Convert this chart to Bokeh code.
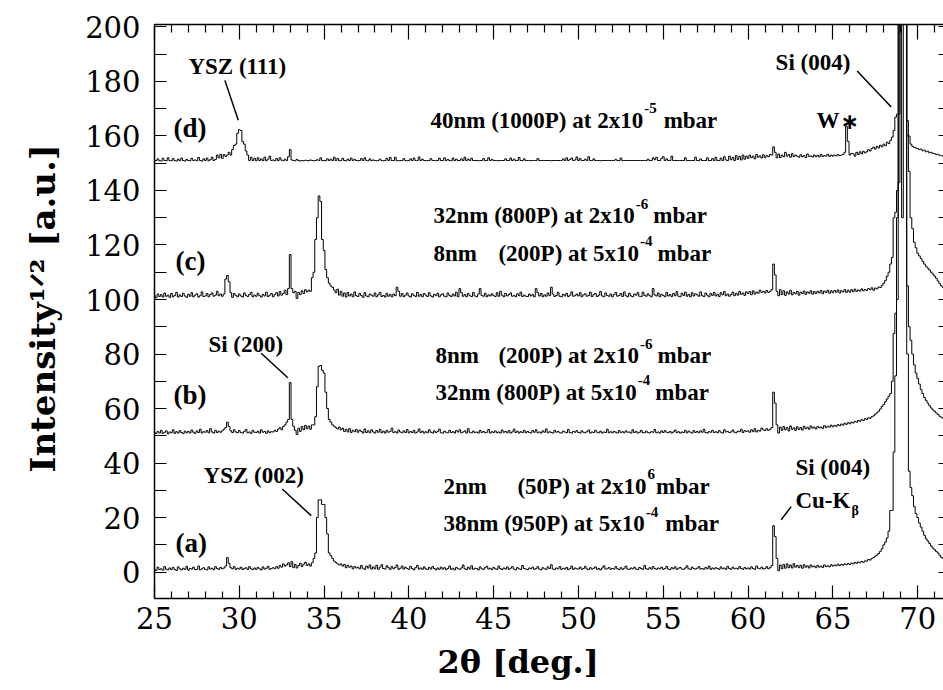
import numpy as np
from bokeh.plotting import figure
from bokeh.models import Range1d, LinearAxis, FixedTicker, Label, Title
from bokeh.embed import file_html
from bokeh.resources import INLINE

# ---------------- data (square-root intensity) ----------------
two_theta_start = 25.0
two_theta_step = 0.1

# (a) 2nm (50P) at 2x10^-6 + 38nm (950P) at 5x10^-4 mbar
trace_a = [
    1.0,0.6,1.8,0.9,1.2,0.7,2.0,1.1,0.8,1.5,
    0.9,1.7,1.0,0.6,1.9,1.2,0.8,1.4,1.0,2.1,
    0.7,1.3,1.1,1.8,0.9,1.0,2.2,0.8,1.2,1.6,
    1.0,0.8,1.9,1.1,1.4,0.9,2.0,1.3,1.0,1.7,
    1.2,1.5,2.2,5.3,3.2,1.6,1.2,2.0,1.0,1.4,
    1.1,1.8,0.9,1.3,1.6,1.0,2.0,1.2,0.9,1.5,
    1.0,1.7,1.2,0.8,1.9,1.1,1.4,2.1,1.0,1.3,
    1.6,1.2,2.0,1.4,2.4,1.8,3.0,2.2,2.6,3.4,
    2.0,3.8,1.6,2.8,1.5,2.4,3.2,2.0,2.9,3.6,
    2.4,3.0,2.2,3.4,5.0,7.0,20.0,26.5,26.5,24.8,
    24.8,20.0,14.0,7.0,6.0,5.0,4.0,3.5,3.0,2.6,
    3.0,2.2,2.8,1.6,2.5,1.8,2.2,1.2,2.0,1.5,
    1.8,1.2,2.4,1.4,1.0,2.2,1.5,2.6,1.1,1.9,
    1.2,2.5,1.0,1.8,2.7,1.3,1.1,2.3,1.6,1.0,
    2.0,1.2,1.7,2.6,1.0,1.4,2.2,1.1,1.8,1.3,
    1.0,2.1,1.3,0.8,1.6,2.4,1.1,1.5,1.0,1.9,
    1.2,0.9,1.7,1.1,2.0,1.3,0.8,1.5,1.0,1.8,
    1.1,1.6,0.9,1.3,2.2,1.0,1.4,0.8,1.7,1.2,
    1.0,1.5,2.6,1.2,0.9,1.8,1.1,2.3,1.0,1.4,
    1.3,0.8,1.9,1.2,1.0,1.6,2.1,1.1,1.4,0.9,
    1.7,1.2,1.0,2.2,1.3,0.9,1.5,1.1,1.9,1.0,
    1.4,2.0,1.1,0.8,1.6,1.2,1.0,2.4,1.3,1.1,
    0.9,1.5,1.2,1.8,1.0,1.3,2.0,1.1,0.8,1.6,
    1.2,1.0,1.9,1.3,2.7,1.1,0.9,1.5,1.2,2.0,
    1.0,1.4,1.1,1.7,0.9,1.3,2.2,1.0,1.5,1.2,
    1.1,1.8,1.0,1.3,2.1,1.2,0.9,1.6,1.1,1.4,
    1.9,1.0,1.3,0.8,1.5,2.3,1.1,1.2,1.7,1.0,
    1.3,1.1,2.0,1.2,0.9,1.6,1.0,1.4,2.2,1.1,
    1.0,1.5,1.2,1.8,1.1,0.9,1.7,1.3,1.0,2.4,
    1.2,1.0,1.6,1.1,2.0,1.3,1.0,1.5,1.2,1.8,
    1.0,1.3,2.1,1.1,0.9,1.6,1.2,1.9,1.0,1.4,
    1.7,1.1,1.0,1.5,2.3,1.2,1.0,1.8,1.3,1.1,
    1.4,2.0,1.1,1.3,1.0,1.7,1.2,2.2,1.0,1.5,
    1.1,1.6,1.3,1.0,1.9,1.2,1.5,1.0,2.1,1.3,
    1.0,1.8,1.2,1.4,1.1,2.0,1.3,1.0,1.7,1.2,
    1.5,1.1,1.9,1.3,1.0,2.2,1.4,1.2,1.8,1.1,
    1.3,2.0,1.2,1.6,2.4,17.0,13.0,5.0,0.5,2.6,
    1.2,2.8,1.4,3.0,1.6,2.6,1.5,3.1,1.8,2.4,
    1.6,2.5,1.4,2.7,1.8,2.3,1.5,2.6,1.9,2.2,
    1.6,2.4,1.8,2.2,1.7,2.6,2.0,2.3,1.9,2.7,
    2.2,2.6,2.3,2.9,2.4,2.8,2.5,3.0,2.7,3.1,
    2.8,3.3,3.0,3.5,3.2,3.7,3.4,3.9,3.6,4.1,
    4.0,4.6,4.4,5.0,5.3,5.8,6.2,6.8,7.6,8.6,
    10.0,11.0,12.5,15.0,22.6,22.6,44.0,72.0,100.0,400.0,
    900.0,130.0,700.0,500.0,80.0,37.0,31.0,28.0,24.0,21.5,
    20.0,18.0,16.5,15.0,13.5,12.2,11.4,10.5,9.6,8.8,
    8.2,7.6,7.0,6.2,5.4,5.0,
]

# (b) 8nm (200P) at 2x10^-6 + 32nm (800P) at 5x10^-4 mbar
trace_b = [
    1.2,0.8,1.6,1.0,2.0,0.9,1.3,1.8,0.7,1.4,
    1.1,2.2,0.9,1.5,1.0,1.9,1.2,0.8,1.7,1.1,
    1.6,1.0,2.1,1.3,0.9,1.8,1.2,2.4,1.0,1.5,
    1.3,1.9,1.1,2.6,1.4,1.0,2.0,1.2,1.7,1.3,
    1.8,2.4,3.0,5.0,3.4,1.8,1.2,2.2,1.4,1.1,
    1.9,1.2,1.0,1.6,2.3,1.1,1.4,0.9,2.0,1.3,
    1.2,1.7,1.0,2.2,1.3,1.6,0.9,1.8,1.1,1.5,
    1.4,2.0,1.6,2.4,3.0,2.2,3.4,4.0,5.0,6.0,
    19.5,6.0,3.5,2.0,0.5,2.8,1.6,3.4,2.2,3.8,
    2.6,3.6,2.4,4.0,4.0,7.0,18.0,25.5,25.8,24.0,
    23.0,16.0,10.0,6.0,5.0,4.0,3.5,3.0,2.5,3.2,
    2.2,2.8,1.6,2.4,1.4,2.6,1.2,2.0,1.5,2.3,
    1.3,2.1,1.6,1.0,2.5,1.2,1.8,1.1,2.2,1.4,
    1.0,1.9,1.3,2.4,1.1,1.7,1.0,2.0,1.3,1.6,
    2.8,1.2,1.5,1.0,2.1,1.4,1.1,1.8,1.2,2.3,
    1.1,1.6,1.2,2.0,1.0,1.4,2.5,1.2,1.7,1.0,
    1.5,1.1,2.2,1.3,1.0,1.8,1.2,1.6,2.4,1.1,
    1.0,1.7,1.3,1.1,2.0,1.2,1.5,1.0,1.9,1.4,
    2.2,1.1,1.4,1.8,1.0,2.6,1.3,1.1,1.7,1.2,
    1.4,1.0,2.0,1.2,1.6,1.1,1.3,2.3,1.0,1.5,
    1.2,1.8,1.1,1.4,1.0,2.1,1.3,1.6,1.1,1.9,
    1.0,1.4,2.4,1.2,1.7,1.0,1.5,1.2,2.0,1.1,
    1.6,1.2,1.0,1.9,1.3,2.2,1.1,1.4,1.0,1.8,
    1.3,2.5,1.1,1.5,1.2,1.0,2.0,1.3,1.6,1.1,
    1.0,1.7,1.4,1.1,2.3,1.2,1.0,1.6,1.3,1.9,
    1.2,1.0,1.8,1.3,1.1,1.5,2.1,1.0,1.4,1.2,
    2.0,1.3,1.1,1.7,1.0,1.4,1.2,2.4,1.1,1.5,
    1.1,1.6,1.3,1.0,1.9,1.2,1.5,1.1,1.8,1.3,
    1.4,1.0,2.2,1.2,1.6,1.0,1.3,2.0,1.2,1.1,
    1.7,1.2,1.0,1.5,1.3,2.3,1.1,1.4,1.0,1.8,
    1.2,1.9,1.3,1.1,1.6,1.0,1.4,2.1,1.2,1.5,
    1.0,1.4,1.2,2.0,1.1,1.7,1.3,1.0,1.9,1.2,
    1.6,1.1,1.8,1.3,2.4,1.2,1.0,1.5,1.3,2.0,
    1.2,1.5,1.1,1.9,1.3,1.0,2.2,1.4,1.6,1.2,
    1.4,2.1,1.3,1.1,1.7,1.5,2.4,1.2,1.9,1.6,
    1.8,1.3,2.2,1.5,2.6,1.4,2.0,1.7,2.8,2.2,
    1.9,2.6,2.0,2.4,3.0,16.0,12.0,4.0,1.0,3.2,
    2.0,3.4,2.2,3.0,1.8,3.6,2.4,2.9,2.0,3.3,
    2.3,3.0,2.1,3.5,2.6,3.1,2.4,3.6,2.8,3.2,
    2.5,3.4,2.9,3.2,2.7,3.7,3.0,3.5,3.2,3.9,
    3.3,3.8,3.5,4.1,3.7,4.3,3.9,4.6,4.2,4.8,
    4.4,5.0,4.7,5.3,5.0,5.6,5.3,5.9,5.6,6.3,
    6.0,6.6,6.4,7.0,7.3,7.9,8.4,9.0,9.8,10.8,
    11.5,12.5,13.5,14.5,15.5,20.0,37.5,45.0,80.0,500.0,
    800.0,1000.0,800.0,600.0,55.0,40.0,35.0,30.0,26.0,23.0,
    21.0,19.0,17.0,15.5,14.0,13.0,12.0,11.0,10.2,9.5,
    9.0,8.4,7.8,7.2,6.8,6.4,
]

# (c) 32nm (800P) at 2x10^-6 + 8nm (200P) at 5x10^-4 mbar
trace_c = [
    1.4,0.6,2.0,1.1,1.8,0.9,2.4,1.2,1.6,0.8,
    2.2,1.0,1.5,2.6,0.9,1.7,1.1,2.3,1.3,0.8,
    1.9,1.2,2.5,1.0,1.6,2.1,0.9,1.4,2.8,1.1,
    1.3,2.2,1.0,1.8,2.4,1.2,1.6,3.0,1.4,2.0,
    1.2,2.0,7.5,8.8,6.5,2.5,0.8,2.2,1.5,1.0,
    2.0,1.3,0.9,2.4,1.5,1.1,1.8,2.6,1.0,1.6,
    1.2,2.3,1.4,0.9,1.9,1.3,2.7,1.1,1.6,2.2,
    1.0,1.8,2.5,1.3,2.9,1.6,2.2,3.4,1.8,4.0,
    16.5,4.0,2.5,3.0,0.4,2.6,1.8,3.2,2.2,3.6,
    2.8,3.4,3.0,8.0,10.0,22.0,30.0,38.0,36.0,22.0,
    18.0,11.0,8.0,6.0,5.0,4.5,3.5,2.5,3.8,1.6,
    3.0,1.2,2.4,0.9,2.6,1.3,2.0,1.0,2.8,1.4,
    1.1,2.2,1.5,0.8,2.5,1.3,1.0,2.0,1.6,1.2,
    2.4,1.0,1.7,2.6,1.1,1.5,0.9,2.3,1.2,1.8,
    1.0,2.0,1.4,4.5,3.0,1.2,2.2,1.0,1.6,2.4,
    1.3,0.9,2.1,1.5,1.1,2.6,1.2,1.8,1.0,2.2,
    1.6,1.1,2.5,1.3,0.9,1.9,1.4,2.3,1.0,1.7,
    2.1,1.2,1.0,2.4,1.5,1.1,2.0,1.3,2.7,1.0,
    4.0,2.5,1.2,1.8,1.0,2.2,1.4,1.1,2.6,1.3,
    1.0,2.0,4.0,1.5,1.2,2.3,1.0,1.7,1.3,2.1,
    1.4,1.1,2.5,1.2,3.0,1.6,1.0,2.2,1.3,1.8,
    2.4,1.2,1.5,1.0,2.1,1.4,2.7,1.1,1.6,1.2,
    1.1,2.0,1.3,1.8,1.0,4.0,2.5,1.3,2.2,1.0,
    1.7,1.2,2.4,1.4,4.5,2.0,1.1,1.5,2.6,1.2,
    1.0,1.9,1.3,2.2,1.1,1.6,2.8,1.2,1.4,2.0,
    1.3,2.5,1.0,1.7,2.1,1.2,1.5,2.7,1.1,1.8,
    2.2,1.1,1.6,2.9,1.3,1.0,2.4,1.5,1.2,2.0,
    1.0,1.8,2.6,1.2,1.5,2.2,1.1,2.8,1.4,1.0,
    2.3,1.3,1.0,2.0,1.6,2.5,1.2,1.1,2.7,1.5,
    1.2,2.1,1.4,1.0,4.0,1.7,1.3,2.4,1.0,1.9,
    1.5,1.0,2.6,1.3,1.8,1.1,2.2,1.4,2.9,1.2,
    1.0,2.3,1.5,2.7,1.2,1.9,1.0,2.5,1.3,2.1,
    1.7,1.2,2.8,1.4,1.1,2.4,1.6,1.0,2.2,1.5,
    2.6,1.3,1.9,1.1,2.5,1.7,2.9,1.4,2.0,1.2,
    1.8,2.7,1.4,2.3,1.6,3.0,1.9,2.4,1.5,2.8,
    2.2,2.9,1.8,3.2,2.0,2.7,2.3,3.4,2.6,3.0,
    2.4,3.3,2.6,3.0,3.6,13.0,9.0,3.0,1.4,3.6,
    1.8,3.2,1.5,2.8,2.0,3.4,1.7,2.6,2.1,3.0,
    1.6,2.7,2.2,3.1,1.9,2.8,2.3,3.2,2.0,2.9,
    2.2,3.0,2.4,3.3,2.1,3.1,2.6,3.4,2.3,3.2,
    2.5,3.3,2.7,3.5,2.4,3.2,2.8,3.6,2.6,3.4,
    2.7,3.6,2.9,3.8,3.0,3.5,3.1,3.9,3.2,3.7,
    3.3,4.0,3.6,4.3,3.4,4.2,3.9,4.6,4.4,5.2,
    6.0,7.0,8.5,10.0,13.0,15.4,30.0,32.0,40.0,43.0,
    600.0,900.0,700.0,400.0,60.0,47.0,30.0,26.0,21.0,19.0,
    17.0,16.0,15.0,14.0,13.0,12.2,11.5,10.8,10.0,9.4,
    8.6,7.8,6.8,5.8,5.0,4.4,
]

# (d) 40nm (1000P) at 2x10^-5 mbar
trace_d = [
    0.8,1.0,1.6,0.9,0.8,1.8,1.0,0.9,2.0,1.0,
    0.9,1.7,1.0,0.8,1.5,0.9,1.9,1.0,0.8,1.4,
    1.0,0.9,1.8,1.0,1.2,0.9,2.1,1.0,0.8,1.6,
    1.0,1.9,0.9,1.3,2.2,1.0,1.4,3.0,2.0,3.3,
    1.8,3.2,2.5,3.0,4.0,3.0,5.0,6.5,7.0,11.0,
    12.3,12.0,8.0,7.0,4.5,3.0,1.0,2.2,1.0,1.8,
    0.9,2.0,1.0,1.6,1.0,2.2,0.9,1.5,2.6,1.0,
    1.2,0.9,1.7,1.0,2.0,1.1,0.9,1.5,1.0,2.4,
    5.0,1.2,1.0,0.9,1.4,1.0,0.8,1.0,0.9,1.1,
    1.0,0.9,1.2,1.0,0.9,1.0,1.3,1.0,2.0,1.0,
    1.0,0.9,1.6,1.0,1.5,1.0,2.2,1.0,1.7,0.9,
    1.0,1.8,1.0,0.9,1.5,1.0,1.9,1.0,1.4,1.0,
    0.9,1.0,1.7,1.0,2.0,1.0,0.9,1.6,1.0,1.2,
    1.0,0.9,1.0,1.5,1.0,0.9,1.0,1.8,1.0,2.1,
    1.0,1.0,2.2,1.0,0.9,1.0,1.0,1.7,1.0,0.9,
    1.0,1.6,1.0,1.9,1.0,1.0,2.3,1.0,1.5,1.0,
    0.9,1.0,1.0,1.7,1.0,1.0,0.9,1.0,1.8,1.0,
    1.0,2.0,1.0,1.4,1.0,0.9,1.9,1.0,1.5,1.0,
    1.0,1.6,1.0,2.2,1.0,1.5,1.0,1.8,1.0,1.0,
    1.0,0.9,1.0,1.0,1.7,1.0,1.0,2.0,1.0,1.4,
    1.0,1.0,1.0,0.9,1.0,1.0,1.0,1.6,1.0,1.0,
    1.9,1.0,1.5,1.0,1.0,2.1,1.0,1.0,1.6,1.0,
    1.0,1.0,0.9,1.0,1.0,1.0,1.7,1.0,1.0,1.0,
    1.0,1.0,1.0,1.0,0.9,1.0,1.0,1.0,1.0,1.0,
    1.0,1.6,1.0,2.0,1.0,1.4,1.9,1.0,1.2,2.3,
    1.0,1.7,1.0,1.0,1.5,1.0,2.4,1.0,1.0,1.6,
    1.0,1.0,1.0,0.9,1.0,1.0,1.0,1.0,1.0,1.0,
    1.0,1.0,1.4,1.0,1.0,1.9,1.0,1.0,1.0,1.0,
    1.0,1.0,1.0,1.0,1.0,1.0,1.0,1.0,1.0,1.0,
    1.0,1.5,1.0,1.0,2.0,1.3,2.2,1.0,1.0,1.8,
    2.4,1.0,1.6,1.0,1.0,2.6,1.0,1.0,1.0,1.0,
    1.0,1.0,1.0,2.0,1.0,1.0,1.0,1.0,1.0,2.2,
    1.0,1.0,1.6,1.0,1.0,1.0,2.0,1.0,1.0,1.7,
    1.0,2.2,1.0,1.0,1.9,1.0,2.4,1.2,1.0,2.6,
    1.3,2.1,1.0,2.8,1.4,2.5,1.2,3.0,1.5,2.6,
    1.8,3.0,2.0,2.6,1.6,3.2,2.2,2.7,1.9,3.1,
    2.0,2.8,2.4,3.2,3.0,6.0,4.0,2.0,3.4,2.1,
    3.0,2.4,4.0,2.6,3.2,2.2,3.5,2.4,3.0,2.6,
    2.2,3.1,2.4,2.8,2.1,3.4,2.5,2.7,2.3,3.0,
    2.4,2.9,2.3,3.2,2.5,2.8,2.6,3.3,2.5,3.0,
    2.6,3.0,2.7,3.2,2.8,3.0,3.2,4.0,13.5,8.0,
    3.0,3.6,3.5,2.6,4.0,3.2,4.2,3.4,4.4,3.8,
    4.2,5.0,4.5,5.4,5.9,5.2,6.2,5.6,6.6,6.0,
    7.0,6.4,7.7,7.2,8.4,9.6,12.0,16.9,18.0,18.0,
    600.0,900.0,700.0,400.0,15.7,10.0,7.0,6.2,5.8,5.6,
    5.4,5.0,5.2,4.6,4.8,4.2,4.4,3.8,4.0,3.6,
    3.5,3.2,3.3,2.9,2.8,2.6,
]

trace_names = ["a", "b", "c", "d"]
trace_offsets = [0, 50, 100, 150]

x_major_ticks = [25, 30, 35, 40, 45, 50, 55, 60, 65, 70]
x_minor_ticks = [26, 27, 28, 29, 31, 32, 33, 34, 36, 37, 38, 39, 41, 42, 43, 44,
                 46, 47, 48, 49, 51, 52, 53, 54, 56, 57, 58, 59, 61, 62, 63, 64,
                 66, 67, 68, 69, 71]
y_major_ticks = [0, 20, 40, 60, 80, 100, 120, 140, 160, 180, 200]
y_minor_ticks = [10, 30, 50, 70, 90, 110, 130, 150, 170, 190]

x_title = "2\u03b8 [deg.]"
y_title = "Intensity\u00b9\u141f\u00b2 [a.u.]"

for t in (trace_a, trace_b, trace_c, trace_d):
    assert len(t) == 466, len(t)

two_theta = np.round(two_theta_start + two_theta_step * np.arange(466), 2)

SERIF = "DejaVu Serif"
TIMES = "Liberation Serif"

# ---------------- figure ----------------
p = figure(width=943, height=690, output_backend="svg", toolbar_location=None,
           x_range=Range1d(25.0, 71.52), y_range=Range1d(-9.7, 200.9),
           min_border_left=154, min_border_right=0, min_border_top=24,
           min_border_bottom=92, x_axis_location=None, y_axis_location=None)
p.outline_line_color = None
p.xgrid.visible = False
p.ygrid.visible = False
p.background_fill_color = "white"
p.border_fill_color = "white"

def style_axis(ax, major_in, minor_in, labels=True, line=True):
    ax.major_tick_in = major_in
    ax.major_tick_out = 0
    ax.minor_tick_in = minor_in
    ax.minor_tick_out = 0
    ax.major_tick_line_color = "black"
    ax.minor_tick_line_color = "black"
    ax.major_tick_line_width = 1.2
    ax.minor_tick_line_width = 1.2
    ax.axis_line_color = "black" if line else None
    ax.axis_line_width = 1.5
    if labels:
        ax.major_label_text_font = SERIF
        ax.major_label_text_font_size = "29px"
        ax.major_label_text_color = "black"
    else:
        ax.major_label_text_color = None
        ax.major_label_text_font_size = "1px"
        ax.major_label_standoff = 0

xb = LinearAxis(ticker=FixedTicker(ticks=x_major_ticks, minor_ticks=x_minor_ticks))
style_axis(xb, 13, 7)
xb.major_label_standoff = 8
p.add_layout(xb, "below")

xt = LinearAxis(ticker=FixedTicker(ticks=x_major_ticks, minor_ticks=x_minor_ticks))
style_axis(xt, 15, 8, labels=False)
p.add_layout(xt, "above")

yl = LinearAxis(ticker=FixedTicker(ticks=y_major_ticks, minor_ticks=y_minor_ticks))
style_axis(yl, 12, 12)
yl.major_label_standoff = 14
p.add_layout(yl, "left")

yr = LinearAxis(ticker=FixedTicker(ticks=y_major_ticks, minor_ticks=y_minor_ticks))
style_axis(yr, 5, 5, labels=False, line=False)
p.add_layout(yr, "right")

# axis titles (outside the frame)
p.add_layout(Title(text=x_title, align="left", offset=283, standoff=18,
                   text_font=SERIF, text_font_style="bold",
                   text_font_size="32px", text_color="black"), "below")
p.add_layout(Title(text=y_title, align="left", offset=126, standoff=40,
                   text_font=SERIF, text_font_style="bold",
                   text_font_size="34px", text_color="black"), "left")

# ---------------- traces ----------------
for name, off, raw in zip(trace_names, trace_offsets,
                          (trace_a, trace_b, trace_c, trace_d)):
    y = np.array(raw) + off
    p.step(two_theta, y, mode="center", line_color="black", line_width=1)

# ---------------- annotations ----------------
TB = {' ': 250, '(': 333, ')': 333, '-': 333, '.': 250, 'x': 500, 'a': 500,
      'b': 556, 'm': 833, 'n': 556, 'r': 444, 't': 333, 'P': 611, 'S': 556,
      'i': 278, 'Y': 722, 'Z': 667, 'W': 1000, 'C': 722, 'u': 556, 'K': 778}

def tw(s, size):
    return sum(TB.get(c, 500) for c in s) / 1000.0 * size

def put(x, y, text, size=23, dx=0, dy=0, font=TIMES, style="bold"):
    p.add_layout(Label(x=x, y=y, x_offset=dx, y_offset=dy, text=text,
                       text_font=font, text_font_style=style,
                       text_font_size=f"{size}px",
                       text_align="left", text_baseline="alphabetic",
                       text_color="black"))

def sup_line(x, y, main, sup, tail, size=23, sup_size=15, gap=5):
    put(x, y, main, size)
    w = tw(main, size)
    put(x, y, sup, sup_size, dx=w + 1, dy=12)
    w2 = w + 1 + tw(sup, sup_size)
    put(x, y, tail, size, dx=w2 + gap)

# sample labels
put(26.12, 162.8, "(d)", 27)
put(26.24, 114.3, "(c)", 27)
put(26.12, 64.8, "(b)", 27)
put(26.24, 10.8, "(a)", 27)

# growth conditions
sup_line(41.27, 165.7, "40nm (1000P) at 2x10", "-5", "mbar", gap=7)
sup_line(41.45, 130.8, "32nm (800P) at 2x10", "-6", "mbar")
put(41.45, 116.9, "8nm")
sup_line(45.28, 116.9, "(200P) at 5x10", "-4", "mbar")
put(41.57, 79.4, "8nm")
sup_line(45.28, 79.4, "(200P) at 2x10", "-6", "mbar")
sup_line(41.57, 65.9, "32nm (800P) at 5x10", "-4", "mbar")
put(42.04, 31.4, "2nm")
sup_line(46.40, 31.4, "(50P) at 2x10", "6", "mbar", gap=1)
sup_line(42.04, 17.8, "38nm (950P) at 5x10", "-4", "mbar", gap=7)

# peak labels
put(27.0, 185.5, "YSZ (111)")
put(61.62, 187.0, "Si (004)")
put(64.03, 165.7, "W")
put(64.03, 165.7, "\u2217", 22, dx=tw("W", 23) + 1, dy=-1, font="DejaVu Sans")
put(28.18, 83.5, "Si (200)")
put(27.89, 35.4, "YSZ (002)")
put(62.79, 38.3, "Si (004)")
put(62.79, 26.2, "Cu-K")
put(62.79, 26.2, "\u03b2", 14, dx=tw("Cu-K", 23) + 1, dy=-10)

leader_x0 = [29.15, 66.43, 31.29, 32.53, 62.54]
leader_y0 = [180.4, 183.8, 80.3, 30.5, 24.0]
leader_x1 = [29.94, 68.44, 32.86, 34.24, 61.95]
leader_y1 = [165.8, 170.6, 71.3, 20.7, 19.2]
p.segment(leader_x0, leader_y0, leader_x1, leader_y1, line_color="black",
          line_width=1.5)

open("out.html", "w").write(file_html(p, INLINE))
